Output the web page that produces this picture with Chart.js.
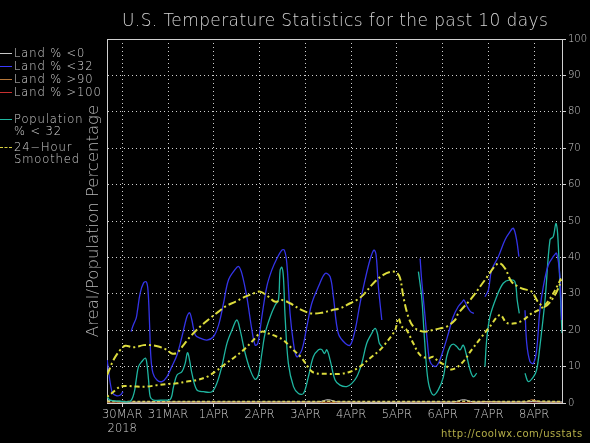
<!DOCTYPE html>
<html>
<head>
    <title>U.S. Temperature Statistics</title>
    <script src="https://cdn.jsdelivr.net/npm/chart.js"></script>
    <style>
        body { margin: 0; background: #000; font-family: "DejaVu Sans", sans-serif; }
        .wrap { position: relative; width: 590px; height: 443px; overflow: hidden; }
        .title { position: absolute; left: 122px; top: 10px; font-size: 17px; font-weight: 200; color: #d4d4d4; letter-spacing: 0.4px; white-space: nowrap; }
        .legend { position: absolute; left: 0; top: 0; font-size: 11.5px; font-weight: 200; color: #d0d0d0; letter-spacing: 0.9px; }
        .legend div { position: absolute; left: 14px; white-space: nowrap; line-height: 12px; }
        .legend span { position: absolute; left: 0; width: 12px; height: 0; border-top: 1.5px solid; }
        .url { position: absolute; left: 441px; top: 428px; font-size: 10px; color: #b4ae48; letter-spacing: 0.5px; }
    </style>
</head>
<body>
    <div class="wrap">
        <canvas id="chart" width="590" height="443"></canvas>
        <div class="title">U.S. Temperature Statistics for the past 10 days</div>
        <div class="legend" id="legend"></div>
        <div class="url">http://coolwx.com/usstats</div>
    </div>

    <script>
        // hours from 30MAR 00Z
        const dayHours = [0, 24, 48, 72, 96, 120, 144, 168, 192, 216];
        const dayLabels = ['30MAR', '31MAR', '1APR', '2APR', '3APR', '4APR', '5APR', '6APR', '7APR', '8APR'];
        const yearLabel = '2018';

        // Land % <32 (blue)
        const landLt32Hours = [-7.9, -5.4, -3.1, -1.0, 0.4, 2.5, 4.6, 5.8, 7.3, 8.0, 9.4, 11.2, 12.6, 13.5, 14.3, 15.0, 16.1, 18.2, 20.8, 23.4, 26.0, 28.7, 31.3, 33.9, 35.3, 36.5, 38.3, 40.9, 44.4, 47.8, 50.5, 53.1, 55.7, 59.2, 61.0, 62.7, 65.3, 68.0, 69.7, 71.1, 73.2, 75.8, 78.4, 81.1, 83.7, 85.0, 86.3, 88.0, 89.8, 91.5, 94.2, 96.8, 99.4, 102.9, 106.4, 109.0, 110.7, 113.3, 116.9, 119.5, 122.1, 124.7, 127.3, 129.9, 132.0, 133.1, 134.3, 136.1, 146, 156.2, 157.0, 158.8, 160.0, 161.4, 164.0, 165.8, 168.4, 171.0, 173.4, 176.2, 178.3, 179.2, 180.9, 182.6, 184.4, 187, 190.2, 192.0, 193.7, 197.2, 200.7, 203.3, 205.1, 206.8, 208.0, 209.6, 211.2, 212.1, 213.8, 215.6, 217.3, 219.0, 220.8, 223.4, 226.0, 227.8, 229.5, 230.4];
        const landLt32 = [11.8, 3.1, 2.0, 2.2, 3.1, null, 19.6, 21.4, 23.3, 25.5, 30.2, 33.0, 33.3, 31.0, 22.0, 12.7, 8.2, 6.3, 5.9, 7.2, 10.0, 13.2, 18.2, 23.7, 24.8, 22.8, 18.7, 17.8, 17.3, 18.2, 21.4, 27.4, 33.8, 36.7, 37.5, 35.6, 29.2, 20.0, 15.9, 16.4, 23.7, 32.0, 36.5, 39.7, 42.0, 42.0, 38.4, 24.6, 16.4, 12.7, 14.6, 21.0, 27.4, 32.0, 35.6, 34.7, 29.2, 19.1, 16.4, 15.9, 20.0, 27.4, 33.8, 39.3, 42.0, 40.7, 32.0, 22.8, null, 39.7, 33.8, 23.7, 16.8, 11.4, 10.0, 10.9, 14.6, 19.1, 23.5, 26.5, 27.8, 28.3, 26.5, 25.1, 24.6, null, 29.2, 31.0, 36.5, 40.2, 44.8, 47.0, 48.0, 44.8, 40.2, null, 25.5, 16.4, 11.4, 10.9, 14.6, 25.5, 32.0, 37.9, 40.2, 41.1, 34.7, 22.8];

        // Population % < 32 (teal)
        const popLt32Hours = [-7.9, -6.3, -1.0, 4.2, 6.3, 7.3, 8.5, 10.3, 12.1, 12.9, 13.8, 14.7, 16.4, 21.6, 25.2, 26.9, 28.7, 31.3, 33.0, 34.2, 35.3, 36.5, 39.1, 42.6, 47.0, 49.6, 52.2, 54.9, 57.5, 60.1, 61.8, 64.5, 67.1, 69.7, 71.4, 73.2, 74.9, 77.6, 80.2, 81.9, 82.8, 83.7, 84.5, 85.4, 87.1, 89.8, 92.4, 95.0, 97.6, 100.2, 102.9, 104.6, 106.0, 107.3, 109.0, 111.6, 114.2, 117.7, 120.4, 123.0, 125.6, 128.2, 130.8, 132.6, 133.8, 134.8, 136.1, 146, 155.3, 157.0, 158.2, 159.7, 161.0, 163.1, 165.7, 168.4, 170.1, 171.9, 173.6, 175.4, 177.1, 178.8, 180.3, 182.4, 184.1, 185.9, 188, 190.2, 191.1, 192.8, 196.3, 199.8, 203.3, 205.9, 207.1, 208.2, 209.6, 211.2, 212.9, 215.6, 217.3, 219.0, 221.7, 224.3, 226.0, 227.4, 228.3, 229.5, 230.6];
        const popLt32 = [1.7, 0.8, 0.5, 0.5, 3.0, 6.3, 10.0, 11.4, 12.3, 10.9, 6.3, 1.7, 0.8, 0.8, 1.0, 4.5, 7.7, 8.6, 10.9, 13.8, 11.8, 8.2, 3.6, 3.1, 3.1, 5.4, 10.0, 16.4, 20.0, 22.8, 20.0, 13.6, 9.1, 6.5, 7.7, 13.6, 19.1, 23.7, 26.9, 28.3, 36.5, 37.3, 34.7, 23.7, 10.9, 4.5, 2.6, 2.6, 7.2, 12.7, 14.6, 14.7, 13.6, 14.6, 11.8, 6.3, 4.9, 4.5, 5.4, 7.2, 10.9, 16.4, 19.1, 20.5, 19.1, 16.4, 15.5, null, 36.1, 29.2, 20.0, 9.1, 4.5, 2.2, 3.6, 7.2, 12.7, 15.5, 16.2, 15.5, 14.6, 15.9, 13.6, 9.1, 7.2, 8.2, null, 10.0, 17.3, 23.7, 29.2, 32.9, 33.8, 33.3, 28.3, 24.6, null, 8.2, 5.9, 7.2, 9.1, 15.5, 28.3, 44.8, 45.7, 49.3, 46.6, 32.9, 19.2];

        // 24-hour smoothed, land <32 (upper yellow)
        const smoothLandHours = [-7.9, -4.6, -1.0, 1.6, 5.9, 11.2, 14.7, 19.0, 23.4, 26.0, 28.7, 32.1, 35.6, 40.9, 46.1, 50.5, 54.0, 59.2, 64.5, 68.8, 72.3, 76.7, 80.2, 83.7, 88.0, 94.2, 99.4, 104.6, 109.9, 114.2, 119.5, 123.0, 126.4, 131.7, 136.9, 141.3, 143.9, 145.7, 147.4, 150.0, 152.6, 155.3, 158.8, 162.3, 166.6, 170.1, 174.5, 176.2, 183.2, 190.2, 197.2, 200.7, 204.2, 209.4, 214.7, 218.0, 221.7, 226.9, 230.4];
        const smoothLand = [7.7, 11.8, 14.6, 15.7, 15.3, 15.9, 15.9, 15.5, 14.6, 13.6, 13.8, 15.9, 18.2, 21.0, 23.3, 25.1, 26.5, 27.8, 29.2, 30.1, 30.6, 29.2, 27.8, 28.3, 27.4, 25.5, 24.6, 24.8, 25.5, 26.0, 27.4, 28.3, 29.7, 32.9, 35.2, 36.1, 35.8, 34.3, 29.2, 23.7, 21.0, 20.0, 19.6, 20.0, 20.5, 21.0, 22.8, 24.6, 28.8, 33.8, 38.4, 37.0, 33.3, 31.5, 30.6, 27.8, 26.5, 29.7, 33.8];

        // 24-hour smoothed, population <32 (lower yellow)
        const smoothPopHours = [-7.9, -4.6, -1.0, 2.5, 7.7, 12.9, 18.2, 23.4, 28.7, 33.9, 39.1, 44.4, 48.7, 54.0, 59.2, 64.5, 68.8, 73.2, 76.7, 81.1, 84.5, 88.9, 94.2, 98.5, 101.1, 108.1, 114.2, 119.5, 124.7, 129.9, 135.2, 139.5, 143.1, 144.8, 146.6, 149.2, 152.6, 156.2, 160.5, 163.1, 165.8, 169.3, 172.8, 178.0, 183.2, 188.5, 192.8, 198.1, 201.6, 205.9, 210.3, 214.7, 218.2, 221.7, 225.9, 230.6];
        const smoothPop = [1.7, 3.1, 4.5, 4.7, 4.5, 4.5, 4.9, 5.2, 5.4, 5.9, 6.3, 7.2, 8.6, 10.7, 12.7, 15.0, 17.3, 19.6, 19.1, 18.2, 17.3, 15.0, 12.3, 9.1, 8.2, 8.0, 8.0, 8.6, 10.0, 12.3, 14.6, 17.3, 20.0, 23.3, 21.0, 20.0, 16.4, 13.2, 12.3, 12.7, 11.4, 10.4, 9.2, 10.9, 14.6, 18.2, 21.0, 24.2, 22.0, 21.9, 22.8, 24.6, 25.5, 26.9, 30.0, 34.7];

        // near-zero series
        const lowHours = [-7.9, 0, 24, 48, 72, 96, 103, 108, 113, 168, 174, 179, 184, 190, 208, 212, 215, 219, 230.6];
        const landLt0 = [0.8, 0.3, 0.3, 0.3, 0.3, 0.3, 0.3, 0.9, 0.3, 0.3, 0.3, 0.9, 0.3, 0.3, 0.3, 0.3, 0.4, 0.3, 0.3];
        const landGt90 = [0, 0, 0, 0, 0, 0, 0, 0.3, 0, 0, 0, 0, 0, 0.4, 0, 0.3, 0.9, 0.3, 0];
        const landGt100 = [0, 0, 0, 0, 0, 0, 0, 0, 0, 0, 0, 0, 0, 0, 0, 0, 0, 0, 0];
        const smoothLow = [0.4, 0.4, 0.4, 0.4, 0.4, 0.4, 0.4, 0.5, 0.4, 0.4, 0.4, 0.5, 0.4, 0.4, 0.4, 0.5, 0.6, 0.5, 0.4];

        const legendItems = [
            { lines: ['Land % <0'], color: '#c8c8c8', top: 47 },
            { lines: ['Land % <32'], color: '#3a3aff', top: 60 },
            { lines: ['Land % >90'], color: '#b8783a', top: 73 },
            { lines: ['Land % >100'], color: '#c83030', top: 86 },
            { lines: ['Population', '% < 32'], color: '#1fb8a0', top: 113 },
            { lines: ['24\u2212Hour', 'Smoothed'], color: '#d8d040', top: 141, dashed: true }
        ];

        const legend = document.getElementById('legend');
        legendItems.forEach(function(item) {
            const d = document.createElement('div');
            d.style.top = item.top + 'px';
            d.innerHTML = item.lines.join('<br>');
            legend.appendChild(d);
            const s = document.createElement('span');
            s.style.top = (item.top + 6) + 'px';
            s.style.borderTopColor = item.color;
            if (item.dashed) s.style.borderTopStyle = 'dashed';
            legend.appendChild(s);
        });

        function pairs(xs, ys) {
            return xs.map(function(x, i) { return { x: x, y: ys[i] }; });
        }

        function line(label, xs, ys, color, width, dash) {
            return {
                label: label,
                data: pairs(xs, ys),
                borderColor: color,
                borderWidth: width,
                borderDash: dash || [],
                pointRadius: 0,
                tension: 0.35,
                spanGaps: false,
                fill: false
            };
        }

        const gridColor = '#d0d0d0';

        const topFrame = {
            id: 'topFrame',
            afterDatasetsDraw(chart) {
                const a = chart.chartArea, ctx = chart.ctx;
                ctx.save();
                ctx.strokeStyle = gridColor;
                ctx.lineWidth = 1;
                ctx.beginPath();
                ctx.moveTo(a.left, a.top + 0.5);
                ctx.lineTo(a.right + 4, a.top + 0.5);
                ctx.stroke();
                ctx.restore();
            }
        };

        // first dataset is drawn on top
        const chart = new Chart(document.getElementById('chart'), {
            type: 'line',
            data: {
                datasets: [
                    line('24-Hour Smoothed', smoothLandHours, smoothLand, '#dcdc3c', 2, [8, 3, 2, 3]),
                    line('24-Hour Smoothed', smoothPopHours, smoothPop, '#dcdc3c', 2, [2, 3, 5, 3]),
                    line('Land % <32', landLt32Hours, landLt32, '#3434e8', 1.3),
                    line('Population % < 32', popLt32Hours, popLt32, '#1fb5a0', 1.3),
                    line('24-Hour Smoothed', lowHours, smoothLow, '#d8d060', 1.5, [3, 2]),
                    line('Land % <0', lowHours, landLt0, '#d0d0d0', 1),
                    line('Land % >90', lowHours, landGt90, '#b8783a', 1),
                    line('Land % >100', lowHours, landGt100, '#c83030', 1)
                ]
            },
            options: {
                responsive: false,
                animation: false,
                layout: { padding: { top: 39, left: 84, right: 0, bottom: 0 } },
                plugins: { legend: { display: false }, tooltip: { enabled: false } },
                scales: {
                    x: {
                        type: 'linear',
                        min: -8,
                        max: 230.6,
                        afterBuildTicks: function(s) { s.ticks = dayHours.map(function(v) { return { value: v }; }); },
                        afterFit: function(s) { s.height = 40; },
                        ticks: {
                            autoSkip: false,
                            maxRotation: 0,
                            padding: 1,
                            color: '#d0d0d0',
                            font: { family: 'DejaVu Sans', size: 11.5, weight: '200' },
                            callback: function(v, i) { return i === 0 ? [dayLabels[0], yearLabel] : dayLabels[i]; }
                        },
                        grid: { color: gridColor, lineWidth: 1, drawTicks: true, tickLength: 4, tickColor: gridColor },
                        border: { display: true, color: gridColor, width: 1, dash: [1, 3] }
                    },
                    y: {
                        position: 'left',
                        min: 0,
                        max: 100,
                        afterFit: function(s) { s.width = 23; },
                        ticks: { display: false, stepSize: 10 },
                        grid: { color: gridColor, lineWidth: 1, drawTicks: false },
                        border: { display: true, color: gridColor, width: 1, dash: [1, 3] },
                        title: {
                            display: true,
                            text: 'Areal/Population Percentage',
                            color: '#b8b8b8',
                            padding: 0,
                            font: { family: 'DejaVu Sans', size: 16.5, weight: '200' }
                        }
                    },
                    y2: {
                        position: 'right',
                        min: 0,
                        max: 100,
                        afterFit: function(s) { s.width = 28; },
                        ticks: {
                            stepSize: 10,
                            padding: 2,
                            color: '#d0d0d0',
                            font: { family: 'DejaVu Sans', size: 10, weight: '200' }
                        },
                        grid: { drawOnChartArea: false, drawTicks: true, tickLength: 4, color: gridColor },
                        border: { display: true, color: gridColor, width: 1 }
                    }
                }
            },
            plugins: [topFrame]
        });
    </script>
</body>
</html>
